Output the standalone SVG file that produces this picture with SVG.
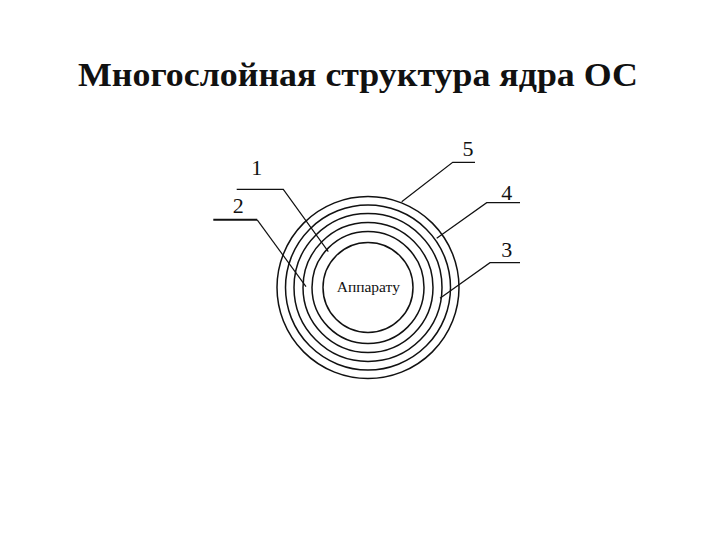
<svg xmlns="http://www.w3.org/2000/svg" width="720" height="540" viewBox="0 0 720 540">
<style>
.ring{fill:none;stroke:#111;stroke-width:1.5}
.lead{fill:none;stroke:#111;stroke-width:1.2}
.num{font-family:"Liberation Serif","Times New Roman",serif;font-size:22px;fill:#111;text-anchor:middle}
.title{font-family:"Liberation Serif","Times New Roman",serif;font-size:34px;font-weight:bold;fill:#111}
.core{font-family:"Liberation Serif","Times New Roman",serif;font-size:15.5px;fill:#111;text-anchor:middle}
</style>
<rect width="720" height="540" fill="#fff"/>
<text class="title" x="78" y="86" textLength="560" lengthAdjust="spacingAndGlyphs">Многослойная структура ядра ОС</text>
<g id="rings">
<circle class="ring" cx="368" cy="287.5" r="91"/>
<circle class="ring" cx="368" cy="287.5" r="82.5"/>
<circle class="ring" cx="368" cy="287.5" r="74"/>
<circle class="ring" cx="368" cy="287.5" r="65"/>
<circle class="ring" cx="368" cy="287.5" r="56"/>
</g>
<g id="core">
<circle class="ring" cx="368" cy="287.5" r="45"/>
<text class="core" x="368.3" y="291.7">Аппарату</text>
</g>
<g id="connectors">
<polyline class="lead" points="236.7,189.3 283.3,189.3 328.3,251.7"/>
<polyline class="lead" points="213.3,219.8 257.2,219.8" style="stroke-width:2"/>
<polyline class="lead" points="257.2,219.8 306,286.7"/>
<polyline class="lead" points="475,162.3 452.7,162.3 401.7,201.7"/>
<polyline class="lead" points="520,202.7 486.7,202.7 436.7,238.3"/>
<polyline class="lead" points="520,262.7 490,262.7 440,298.3"/>
</g>
<g id="label1"><text class="num" x="256.7" y="175">1</text></g>
<g id="label2"><text class="num" x="238.3" y="213">2</text></g>
<g id="label5"><text class="num" x="468" y="156">5</text></g>
<g id="label4"><text class="num" x="506.7" y="200">4</text></g>
<g id="label3"><text class="num" x="506.7" y="256.7">3</text></g>
</svg>
